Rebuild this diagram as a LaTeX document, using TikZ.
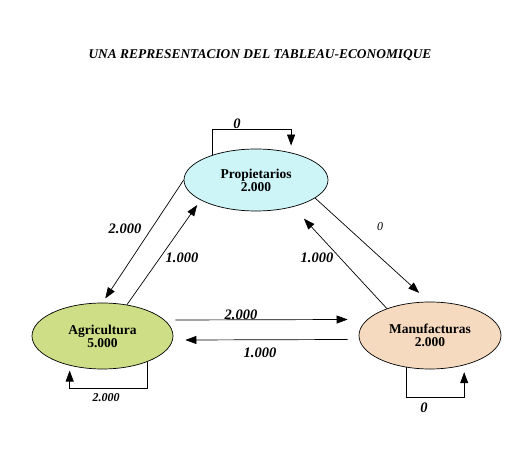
\documentclass[tikz,border=0pt]{standalone}
\usepackage{fontspec}
\setmainfont{Liberation Serif}
\usetikzlibrary{arrows.meta,shapes.geometric}
\definecolor{propfill}{RGB}{205,245,248}
\definecolor{agrifill}{RGB}{205,222,135}
\definecolor{manufill}{RGB}{246,218,192}
\begin{document}
\begin{tikzpicture}[x=1pt,y=-1pt,
	sector/.style={ellipse,draw,line width=.7pt,inner sep=0pt,align=center,font=\fontsize{13.5}{13}\selectfont\bfseries},
	flow/.style={line width=.7pt,-{Triangle[length=11pt,width=8pt]}},
	amount/.style={inner sep=0pt,font=\fontsize{14.5}{14.5}\selectfont\bfseries\itshape}]
	    \useasboundingbox (0,0) rectangle (509,470);
	    \node[font=\fontsize{13.4}{13.4}\selectfont\bfseries\itshape] (title) at (260,55) {UNA REPRESENTACION DEL TABLEAU-ECONOMIQUE};
	    \node[sector,fill=propfill,minimum width=144pt,minimum height=62pt] (prop) at (256,180) {Propietarios\\2.000};
	    \node[sector,fill=agrifill,minimum width=141pt,minimum height=66pt] (agri) at (102.5,336) {Agricultura\\5.000};
	    \node[sector,fill=manufill,minimum width=142pt,minimum height=67pt] (manu) at (430,335.5) {Manufacturas\\2.000};
	    \draw[flow,shorten >=5pt] (prop.180) -- (agri.90);
	    \draw[flow,shorten >=6pt] (agri.52) -- (prop.200);
	    \draw[flow,shorten >=13pt] (prop.343) -- (manu.92);
	    \draw[flow,shorten >=16pt] (manu.148) -- (prop.324);
	    \draw[flow] ([shift={(2pt,16pt)}]agri.east) -- ([shift={(-11pt,16pt)}]manu.west);
	    \draw[flow] ([shift={(-11pt,-4pt)}]manu.west) -- ([shift={(12pt,-4pt)}]agri.east);
	    \draw[flow] (prop.150) -- ++(0,-26) -| ([yshift=7pt]prop.38.5);
	    \draw[flow] (agri.330) -- ++(0,27) -| ([yshift=-5pt]agri.222);
	    \draw[flow] (manu.233) -- ++(0,30) -| ([yshift=-7pt]manu.319);
	    \node[amount] (propagri) at (125,229) {2.000};
	    \node[amount] (agriprop) at (182,258) {1.000};
	    \node[inner sep=0pt,font=\fontsize{12}{12}\selectfont\itshape] (propmanu) at (380,227) {0};
	    \node[amount] (manuprop) at (317,258) {1.000};
	    \node[amount] (agrimanu) at (241,315) {2.000};
	    \node[amount] (manuagri) at (260,353) {1.000};
	    \node[amount] (propprop) at (237,124) {0};
	    \node[amount,font=\fontsize{12}{12}\selectfont\bfseries\itshape] (agriagri) at (106,398) {2.000};
	    \node[amount] (manumanu) at (424,408) {0};
	\end{tikzpicture}
\end{document}
